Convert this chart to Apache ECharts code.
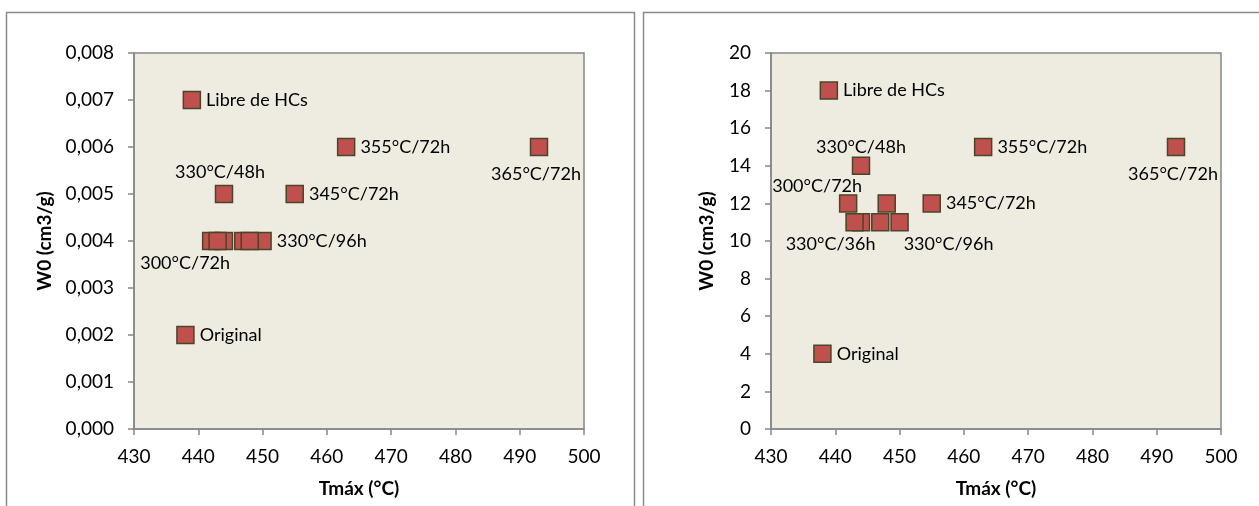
<!DOCTYPE html>
<html>
<head>
<meta charset="utf-8">
<script src="https://cdn.jsdelivr.net/npm/echarts@6/dist/echarts.min.js"></script>
<style>
  html, body { margin: 0; padding: 0; background: #fff; }
  #chart { width: 1259px; height: 506px; }
</style>
</head>
<body>
<div id="chart"></div>
<script>
// Sample names (empty = unlabeled sample)
const samples = ['Original', 'Libre de HCs', '300°C/72h', '', '330°C/36h', '330°C/48h', '', '330°C/96h', '', '345°C/72h', '355°C/72h', '365°C/72h'];
// Tmax (°C) per sample
const tmax = [438, 439, 442, 444, 443, 444, 447, 450, 448, 455, 463, 493];
// W0 values for the left panel
const w0Left = [0.002, 0.007, 0.004, 0.004, 0.004, 0.005, 0.004, 0.004, 0.004, 0.005, 0.006, 0.006];
// W0 values for the right panel
const w0Right = [4, 18, 12, 11, 11, 14, 11, 11, 12, 12, 15, 15];
// Labels drawn in each panel
const labelsLeft = ['Original', 'Libre de HCs', '300°C/72h', '', '', '330°C/48h', '', '330°C/96h', '', '345°C/72h', '355°C/72h', '365°C/72h'];
const labelsRight = samples;

const FONT = 'Lato';
const TEXT = '#000';
const AXIS = '#868686';

// Label placement per panel (offset from marker centre when not to the right)
const placeLeft = {
  '300°C/72h': [-26, 22],
  '330°C/48h': [-4, -22],
  '365°C/72h': [-3, 27]
};
const placeRight = {
  '300°C/72h': [-31, -17],
  '330°C/48h': [0, -19],
  '330°C/36h': [-24, 22],
  '330°C/96h': [49, 22],
  '365°C/72h': [-3, 27]
};

function buildData(ys, labels, place) {
  return tmax.map((x, i) => {
    const text = labels[i];
    const item = { value: [x, ys[i]] };
    if (!text) {
      item.label = { show: false };
    } else if (place[text]) {
      item.label = { show: true, position: 'inside', offset: place[text], formatter: text };
    } else {
      item.label = { show: true, position: 'right', distance: 5, formatter: text };
    }
    return item;
  });
}

function xAxis(gridIndex) {
  return {
    gridIndex, type: 'value', min: 430, max: 500, interval: 10,
    name: 'Tmáx (°C)', nameLocation: 'middle', nameGap: 50,
    nameTextStyle: { fontFamily: FONT, fontWeight: 'bold', fontSize: 19, color: TEXT },
    axisLine: { show: true, lineStyle: { color: AXIS, width: 1.5 } },
    axisTick: { show: true, inside: false, length: 6, lineStyle: { color: AXIS, width: 1.5 } },
    axisLabel: { fontFamily: FONT, fontSize: 19, color: TEXT, margin: 18 },
    splitLine: { show: false }
  };
}

function yAxis(gridIndex, max, interval, fmt, gap) {
  return {
    gridIndex, type: 'value', min: 0, max, interval,
    name: 'W0 (cm3/g)', nameLocation: 'middle', nameGap: gap, nameRotate: 90,
    nameTextStyle: { fontFamily: FONT, fontWeight: 'bold', fontSize: 19, color: TEXT },
    axisLine: { show: true, lineStyle: { color: AXIS, width: 1.5 } },
    axisTick: { show: true, inside: false, length: 6, lineStyle: { color: AXIS, width: 1.5 } },
    axisLabel: { fontFamily: FONT, fontSize: 19, color: TEXT, margin: 20, formatter: fmt },
    splitLine: { show: false }
  };
}

const markerStyle = { color: '#C0504D', borderColor: '#4A4428', borderWidth: 1.5, opacity: 1 };
const labelStyle = { fontFamily: FONT, fontSize: 18, color: TEXT };

const option = {
  animation: false,
  backgroundColor: '#fff',
  graphic: [
    { type: 'rect', shape: { x: 6.5, y: 12.5, width: 628, height: 520 }, style: { fill: 'none', stroke: '#8a8a8a', lineWidth: 1.5 }, silent: true },
    { type: 'rect', shape: { x: 643.5, y: 12.5, width: 630, height: 520 }, style: { fill: 'none', stroke: '#8a8a8a', lineWidth: 1.5 }, silent: true }
  ],
  grid: [
    { left: 134, top: 53, width: 450, height: 376, show: true, backgroundColor: '#EEECE1', borderColor: AXIS, borderWidth: 1.5 },
    { left: 771, top: 53, width: 450, height: 376, show: true, backgroundColor: '#EEECE1', borderColor: AXIS, borderWidth: 1.5 }
  ],
  xAxis: [xAxis(0), xAxis(1)],
  yAxis: [
    yAxis(0, 0.008, 0.001, v => v.toFixed(3).replace('.', ','), 80),
    yAxis(1, 20, 2, v => String(v), 55)
  ],
  series: [
    {
      type: 'scatter', xAxisIndex: 0, yAxisIndex: 0,
      symbol: 'rect', symbolSize: 17,
      itemStyle: markerStyle, label: labelStyle,
      emphasis: { disabled: true },
      data: buildData(w0Left, labelsLeft, placeLeft)
    },
    {
      type: 'scatter', xAxisIndex: 1, yAxisIndex: 1,
      symbol: 'rect', symbolSize: 17,
      itemStyle: markerStyle, label: labelStyle,
      emphasis: { disabled: true },
      data: buildData(w0Right, labelsRight, placeRight)
    }
  ]
};

const chart = echarts.init(document.getElementById('chart'), null, { renderer: 'canvas' });
chart.setOption(option);
</script>
</body>
</html>
